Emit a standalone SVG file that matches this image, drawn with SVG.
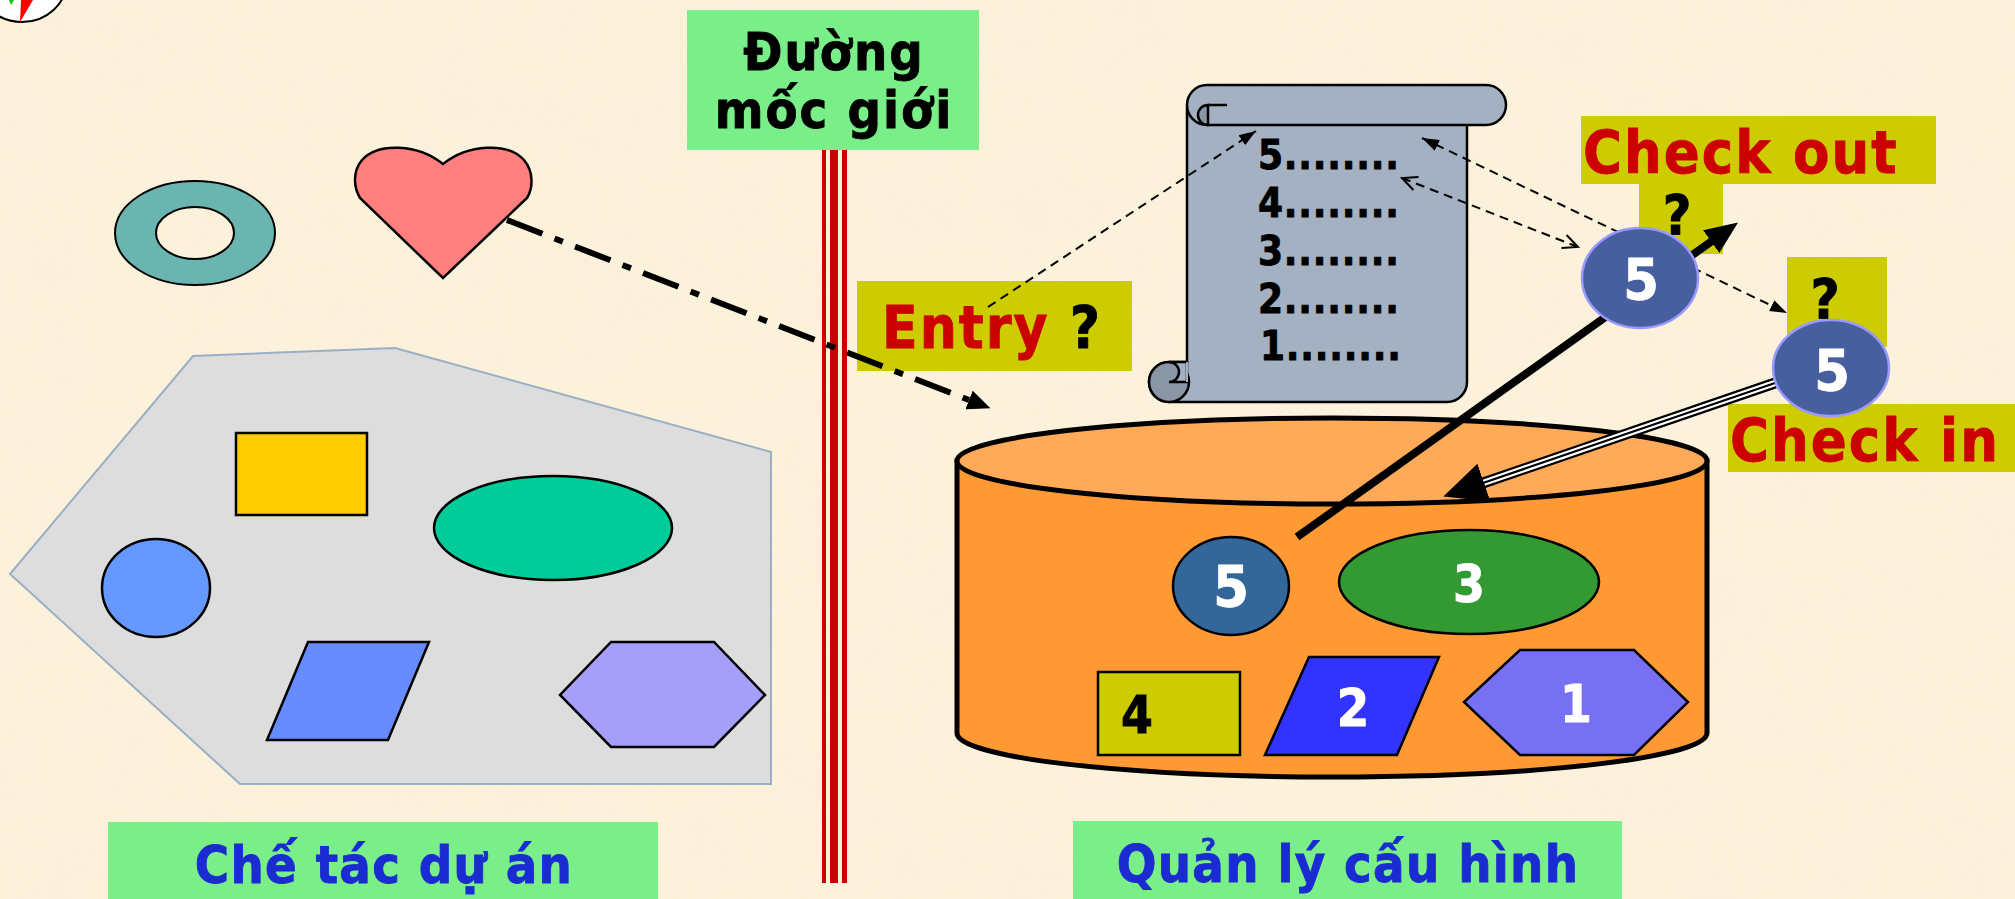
<svg xmlns="http://www.w3.org/2000/svg" width="2015" height="899" viewBox="0 0 2015 899">
<style>
.t{font-family:'DejaVu Sans Condensed','DejaVu Sans',sans-serif;font-weight:bold;font-stretch:condensed;stroke:#000;stroke-width:0.8}
.sh{stroke:#000;stroke-width:2.5}
.lbl{fill:#79EE89}
.yb{fill:#CCCC00}
.red{fill:#CC0000;stroke:#CC0000}
.wt{fill:#fff;stroke:#fff}
.blue{fill:#1A2BD2;stroke:#1A2BD2}
.dash{fill:none;stroke:#000;stroke-width:2;stroke-dasharray:9 6}
.circ5{fill:#485F9F;stroke:#9999FF;stroke-width:2.5}
.ls2{letter-spacing:2px}
.ls1{letter-spacing:1.3px}
</style>
<defs>
<marker id="aS" markerUnits="userSpaceOnUse" markerWidth="18" markerHeight="14" refX="17" refY="7" orient="auto-start-reverse"><path d="M0,1 L17,7 L0,13 Z" fill="#000"/></marker>
<marker id="aO" markerUnits="userSpaceOnUse" markerWidth="18" markerHeight="16" refX="16" refY="8" orient="auto-start-reverse"><path d="M1,1 L16,8 L1,15" fill="none" stroke="#000" stroke-width="2"/></marker>
<marker id="aDD" markerUnits="userSpaceOnUse" markerWidth="24" markerHeight="20" refX="0" refY="10" orient="auto"><path d="M0,0 L23,10 L0,20 Z" fill="#000"/></marker>
<marker id="aT" markerUnits="userSpaceOnUse" markerWidth="34" markerHeight="30" refX="1" refY="15" orient="auto"><path d="M0,1 L33,15 L0,29 Z" fill="#000"/></marker>
<marker id="aB" markerUnits="userSpaceOnUse" markerWidth="44" markerHeight="42" refX="1" refY="21" orient="auto"><path d="M0,1 L43,21 L0,41 Z" fill="#000"/></marker>
<filter id="paper" x="0" y="0" width="100%" height="100%">
<feTurbulence type="fractalNoise" baseFrequency="0.012" numOctaves="3" seed="7"/>
<feColorMatrix type="matrix" values="0 0 0 0 0.93  0 0 0 0 0.86  0 0 0 0 0.70  0 0 0 0.9 -0.35"/>
</filter>
</defs>
<rect width="2015" height="899" fill="#FCF1DB"/>
<rect width="2015" height="899" filter="url(#paper)" opacity="0.35"/>

<g id="compass">
<ellipse cx="22" cy="-20" rx="45" ry="42" fill="#fff" stroke="#000" stroke-width="2"/>
<path d="M21,0 L33,0 L20,22 Z" fill="#FF0000"/>
<path d="M9,0 L14,0 L11,5 Z" fill="#00CC00"/>
</g>

<g id="boundary-line">
<rect x="822" y="150" width="4" height="733" fill="#CC0000"/>
<rect x="830" y="150" width="8" height="733" fill="#CC0000"/>
<rect x="842" y="150" width="5" height="733" fill="#CC0000"/>
</g>

<g id="boundary-label">
<rect class="lbl" x="687" y="10" width="292" height="140"/>
<text class="t ls2" x="834" y="70" font-size="52" text-anchor="middle">Đường</text>
<text class="t ls2" x="834" y="128" font-size="52" text-anchor="middle">mốc giới</text>
</g>

<g id="donut">
<path d="M115,233 A80,52 0 1 0 275,233 A80,52 0 1 0 115,233 Z M156,233 A39,26 0 1 1 234,233 A39,26 0 1 1 156,233 Z" fill="#6BB5B0" fill-rule="evenodd" stroke="#000" stroke-width="2"/>
</g>

<g id="heart">
<path d="M443,164 C468,144 508,142 524,160 C534,172 533,188 527,198 L443,278 L360,198 C354,188 352,172 362,160 C378,142 418,144 443,164 Z" fill="#FF7F7F" class="sh"/>
</g>

<g id="project-area">
<polygon points="193,356 395,348 771,452 771,784 240,784 10,574" fill="#DDDDDD" stroke="#9AAFC4" stroke-width="2"/>
<rect x="236" y="433" width="131" height="82" fill="#FFCC00" class="sh"/>
<ellipse cx="553" cy="528" rx="119" ry="52" fill="#00CC99" class="sh"/>
<ellipse cx="156" cy="588" rx="54" ry="49" fill="#6699FF" class="sh"/>
<polygon points="308,642 429,642 388,740 267,740" fill="#668CFF" class="sh"/>
<polygon points="611,642 714,642 765,695 714,747 611,747 560,695" fill="#A59FFA" class="sh"/>
</g>

<g id="repository">
<path d="M957,461 V733 A375,44 0 0 0 1707,733 V461 Z" fill="#FF9933" stroke="#000" stroke-width="5"/>
<ellipse cx="1332" cy="461" rx="375" ry="43" fill="#FFAA58" stroke="#000" stroke-width="5"/>
</g>

<g id="item-5-stored">
<ellipse cx="1231" cy="586" rx="58" ry="49" fill="#336699" class="sh"/>
<text class="t wt" x="1231" y="607" font-size="57" text-anchor="middle">5</text>
</g>
<g id="item-3">
<ellipse cx="1469" cy="582" rx="130" ry="52" fill="#339933" class="sh"/>
<text class="t wt" x="1469" y="602" font-size="51" text-anchor="middle">3</text>
</g>
<g id="item-4">
<rect x="1098" y="672" width="142" height="83" fill="#CCCC00" class="sh"/>
<text class="t" x="1121" y="733" font-size="51">4</text>
</g>
<g id="item-2">
<polygon points="1309,657 1439,657 1397,755 1265,755" fill="#3333FF" class="sh"/>
<text class="t wt" x="1353" y="726" font-size="52" text-anchor="middle">2</text>
</g>
<g id="item-1">
<polygon points="1520,650 1634,650 1688,702 1634,755 1520,755 1464,702" fill="#7770F2" class="sh"/>
<text class="t wt" x="1576" y="722" font-size="51" text-anchor="middle">1</text>
</g>

<g id="scroll">
<path d="M1187,108 V362 H1169 A20,20 0 0 0 1169,402 H1447 A20,20 0 0 0 1467,382 V118 Z" fill="#A3B1C2" stroke="#000" stroke-width="2.5"/>
<path d="M1207,85 H1486 A20,20 0 0 1 1486,125 H1207 A20,20 0 0 1 1207,85 Z" fill="#A3B1C2" stroke="#000" stroke-width="2.5"/>
<path d="M1208,105 A10,10 0 0 0 1208,125 Z" fill="#8A96A6" stroke="#000" stroke-width="2.5"/>
<path d="M1208,105 H1227" stroke="#000" stroke-width="2.5"/>
<circle cx="1169" cy="382" r="20" fill="#8A96A6" stroke="#000" stroke-width="2.5"/>
<path d="M1169,362 A10,10 0 0 1 1169,382 H1187 V362 Z" fill="#A3B1C2" stroke="#000" stroke-width="2.5"/>
<path d="M1187,362 V382" stroke="#A3B1C2" stroke-width="2"/>
<g class="t" font-size="40" letter-spacing="0.8">
<text x="1258" y="169">5........</text>
<text x="1258" y="217">4........</text>
<text x="1258" y="265">3........</text>
<text x="1258" y="313">2........</text>
<text x="1260" y="360">1........</text>
</g>
</g>

<g id="entry-label">
<rect class="yb" x="857" y="281" width="275" height="90"/>
<text class="t ls2" x="882" y="348" font-size="58"><tspan class="red">Entry </tspan><tspan>?</tspan></text>
</g>

<g id="checkout-label">
<rect class="yb" x="1581" y="116" width="355" height="68"/>
<rect class="yb" x="1639" y="183" width="84" height="71"/>
<text class="t red ls2" x="1583" y="173" font-size="59">Check out</text>
<text class="t" x="1677" y="234" font-size="55" text-anchor="middle">?</text>
</g>

<g id="checkin-label">
<rect class="yb" x="1787" y="257" width="100" height="90"/>
<text class="t" x="1825" y="318" font-size="56" text-anchor="middle">?</text>
<rect class="yb" x="1728" y="404" width="287" height="68"/>
<text class="t red ls2" x="1730" y="461" font-size="59">Check in</text>
</g>

<g id="connectors">
<path d="M507,220 L969,400" fill="none" stroke="#000" stroke-width="6" stroke-dasharray="38 13 9 13" marker-end="url(#aDD)"/>
<path class="dash" d="M988,307 L1256,131" marker-end="url(#aS)"/>
<path class="dash" d="M1422,138 L1787,313" marker-start="url(#aS)" marker-end="url(#aS)"/>
<path class="dash" d="M1402,178 L1578,247" marker-start="url(#aO)" marker-end="url(#aO)"/>
<path d="M1297,537 L1712,241" fill="none" stroke="#000" stroke-width="8" marker-end="url(#aT)"/>
<g>
<path d="M1775,383 L1483,483" fill="none" stroke="#000" stroke-width="11"/>
<path d="M1775,383 L1483,483" fill="none" stroke="#fff" stroke-width="6.5"/>
<path d="M1775,383 L1483,483" fill="none" stroke="#000" stroke-width="2.2" marker-end="url(#aB)"/>
</g>
</g>

<g id="item-5-checkout">
<ellipse class="circ5" cx="1640" cy="278" rx="58" ry="50"/>
<text class="t wt" x="1641" y="300" font-size="57" text-anchor="middle">5</text>
</g>
<g id="item-5-checkin">
<ellipse class="circ5" cx="1831" cy="368" rx="58" ry="48"/>
<text class="t wt" x="1832" y="391" font-size="57" text-anchor="middle">5</text>
</g>

<g id="label-project">
<rect class="lbl" x="108" y="822" width="550" height="77"/>
<text class="t blue ls1" x="384" y="883" font-size="52" text-anchor="middle">Chế tác dự án</text>
</g>
<g id="label-config">
<rect class="lbl" x="1073" y="821" width="549" height="78"/>
<text class="t blue ls1" x="1348" y="882" font-size="52" text-anchor="middle">Quản lý cấu hình</text>
</g>
</svg>
